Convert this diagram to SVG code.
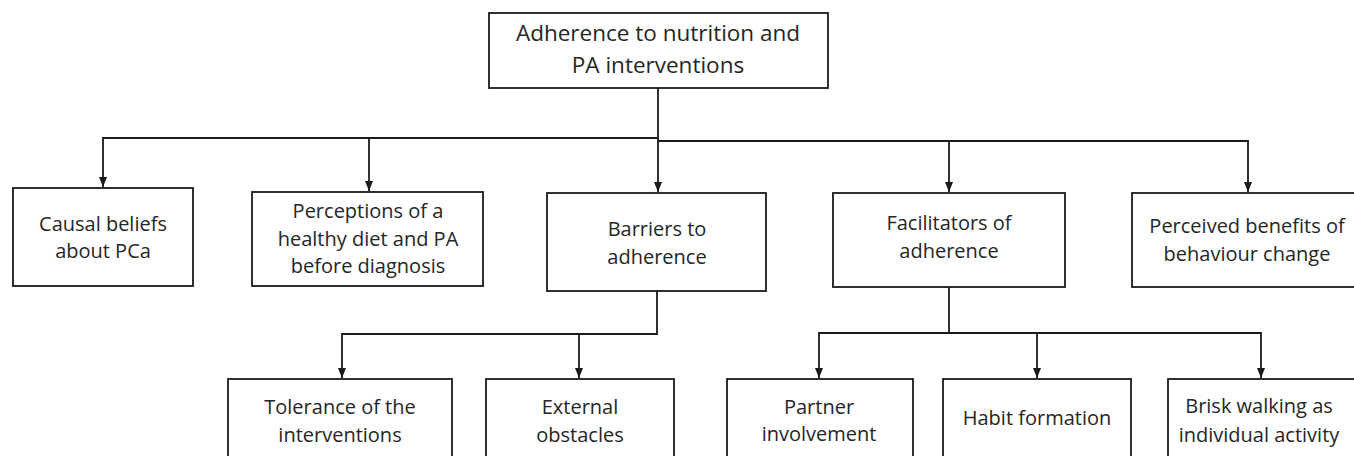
<svg xmlns="http://www.w3.org/2000/svg" width="1354" height="456" viewBox="0 0 1354 456">
<style>
.box{fill:#fff;stroke:#1a1a1a;stroke-width:1.8}
.t{font-family:"Open Sans","Noto Sans","Liberation Sans",sans-serif;font-size:20px;fill:#262626;text-anchor:middle}
.tr{font-size:22.5px}
.c{fill:none;stroke:#1a1a1a;stroke-width:1.8}
</style>
<defs>
<marker id="ah" markerUnits="userSpaceOnUse" markerWidth="10" markerHeight="10" viewBox="0 0 10 10" refX="10" refY="5" orient="auto">
<path d="M0,1 L10,5 L0,9 Z" fill="#1a1a1a"/>
</marker>
</defs>
<rect width="1354" height="456" fill="#fff"/>
<g id="connectors">
<path class="c" d="M658,88 V192" marker-end="url(#ah)"/>
<path class="c" d="M658,138 H103 V187" marker-end="url(#ah)"/>
<path class="c" d="M369,138 V191" marker-end="url(#ah)"/>
<path class="c" d="M658,141 H1248 V192" marker-end="url(#ah)"/>
<path class="c" d="M949,141 V192" marker-end="url(#ah)"/>
<path class="c" d="M657,291 V334 H342 V378" marker-end="url(#ah)"/>
<path class="c" d="M579,334 V378" marker-end="url(#ah)"/>
<path class="c" d="M949,287 V333 H819 V378" marker-end="url(#ah)"/>
<path class="c" d="M949,333 H1261 V378" marker-end="url(#ah)"/>
<path class="c" d="M1037,333 V378" marker-end="url(#ah)"/>
</g>
<g id="root">
<rect class="box" x="489" y="13" width="339" height="75"/>
<text class="t tr" x="658" y="41">Adherence to nutrition and</text>
<text class="t tr" x="658" y="73">PA interventions</text>
</g>
<g id="causal">
<rect class="box" x="13" y="188" width="180" height="98"/>
<text class="t" x="103" y="231">Causal beliefs</text>
<text class="t" x="103" y="258">about PCa</text>
</g>
<g id="perceptions">
<rect class="box" x="252" y="192" width="231" height="94"/>
<text class="t" x="368" y="218">Perceptions of a</text>
<text class="t" x="368" y="246">healthy diet and PA</text>
<text class="t" x="368" y="273">before diagnosis</text>
</g>
<g id="barriers">
<rect class="box" x="547" y="193" width="219" height="98"/>
<text class="t" x="657" y="236">Barriers to</text>
<text class="t" x="657" y="264">adherence</text>
</g>
<g id="facilitators">
<rect class="box" x="833" y="193" width="232" height="94"/>
<text class="t" x="949" y="230">Facilitators of</text>
<text class="t" x="949" y="258">adherence</text>
</g>
<g id="benefits">
<rect class="box" x="1132" y="193" width="230" height="94"/>
<text class="t" x="1247" y="233">Perceived benefits of</text>
<text class="t" x="1247" y="261">behaviour change</text>
</g>
<g id="tolerance">
<rect class="box" x="228" y="379" width="224" height="95"/>
<text class="t" x="340" y="414">Tolerance of the</text>
<text class="t" x="340" y="442">interventions</text>
</g>
<g id="external">
<rect class="box" x="486" y="379" width="188" height="95"/>
<text class="t" x="580" y="414">External</text>
<text class="t" x="580" y="442">obstacles</text>
</g>
<g id="partner">
<rect class="box" x="727" y="379" width="186" height="95"/>
<text class="t" x="819" y="414">Partner</text>
<text class="t" x="819" y="441">involvement</text>
</g>
<g id="habit">
<rect class="box" x="943" y="379" width="188" height="95"/>
<text class="t" x="1037" y="425">Habit formation</text>
</g>
<g id="brisk">
<rect class="box" x="1168" y="379" width="188" height="95"/>
<text class="t" x="1259" y="413">Brisk walking as</text>
<text class="t" x="1259" y="442">individual activity</text>
</g>
</svg>
